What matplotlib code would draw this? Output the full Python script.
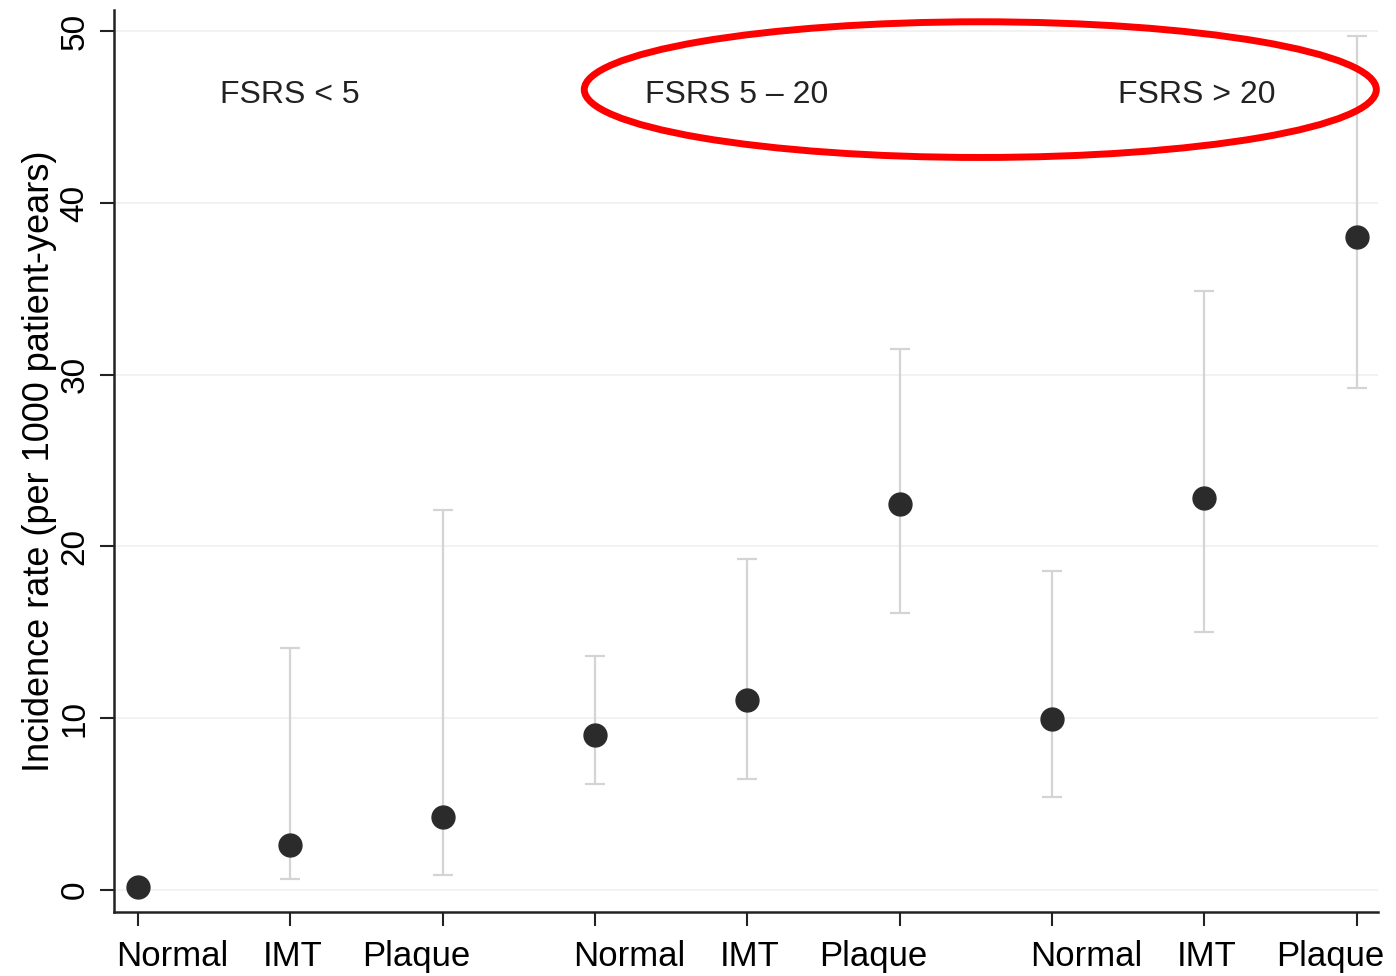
import matplotlib.pyplot as plt
from matplotlib.patches import Ellipse
from matplotlib.transforms import ScaledTranslation
import numpy as np

plt.rcParams['font.family'] = ['Liberation Sans', 'DejaVu Sans']

categories = ['Normal', 'IMT', 'Plaque'] * 3
groups = ['FSRS < 5', 'FSRS 5 \u2013 20', 'FSRS > 20']
rate = [0.2, 2.6, 4.25, 9.05, 11.05, 22.5, 9.95, 22.8, 38.0]
ci_low = [0.2, 0.65, 0.9, 6.2, 6.45, 16.1, 5.4, 15.0, 29.2]
ci_high = [0.2, 14.1, 22.1, 13.6, 19.3, 31.5, 18.6, 34.9, 49.7]
group_x = [2.0, 4.93, 7.95]
y_ticks = [0, 10, 20, 30, 40, 50]

fig = plt.figure(figsize=(13.96, 9.76), dpi=100)
ax = fig.add_axes([0.0817, 0.0656, 0.9053, 0.9244])

x = np.arange(1, len(rate) + 1)
rate = np.array(rate)
yerr = [rate - np.array(ci_low), np.array(ci_high) - rate]
# the first point has no visible interval
ax.errorbar(x[1:], rate[1:], yerr=[yerr[0][1:], yerr[1][1:]], fmt='none',
            ecolor='#d4d4d4', elinewidth=1.6, capsize=7, capthick=1.6, zorder=2)
ax.plot(x, rate, 'o', color='#2b2b2b', markersize=16.5, zorder=3)

for yt in y_ticks:
    ax.axhline(yt, color='#f0f0f0', lw=1.2, zorder=0)

for gx, g in zip(group_x, groups):
    ax.text(gx, 46.3, g, ha='center', va='center', fontsize=23, color='#222222')

ell = Ellipse((6.53, 46.6), 5.2, 7.9, fill=False, edgecolor='#ff0000',
              lw=5, clip_on=False, zorder=4)
ax.add_patch(ell)

ax.set_xlim(0.843, 9.14)
ax.set_ylim(-1.28, 51.25)
ax.set_xticks(x)
ax.set_xticklabels(categories, fontsize=25)
ax.set_yticks(y_ticks)
ax.set_yticklabels([str(v) for v in y_ticks], fontsize=24, rotation=90, va='center')
ax.set_ylabel('Incidence rate (per 1000 patient-years)', fontsize=26, labelpad=2)
ax.tick_params(axis='both', length=10, width=1.5, color='#222222', pad=7)
ax.tick_params(axis='x', pad=10)

# labels sit a little off their ticks in the original
shift = {'Normal': 25, 'IMT': 2, 'Plaque': -19}
for lab in ax.get_xticklabels():
    dx = shift[lab.get_text()] / 72
    lab.set_transform(lab.get_transform() + ScaledTranslation(dx, 0, fig.dpi_scale_trans))

for s in ['top', 'right']:
    ax.spines[s].set_visible(False)
for s in ['left', 'bottom']:
    ax.spines[s].set_linewidth(1.8)
    ax.spines[s].set_color('#222222')

fig.savefig('out.png', dpi=100)
